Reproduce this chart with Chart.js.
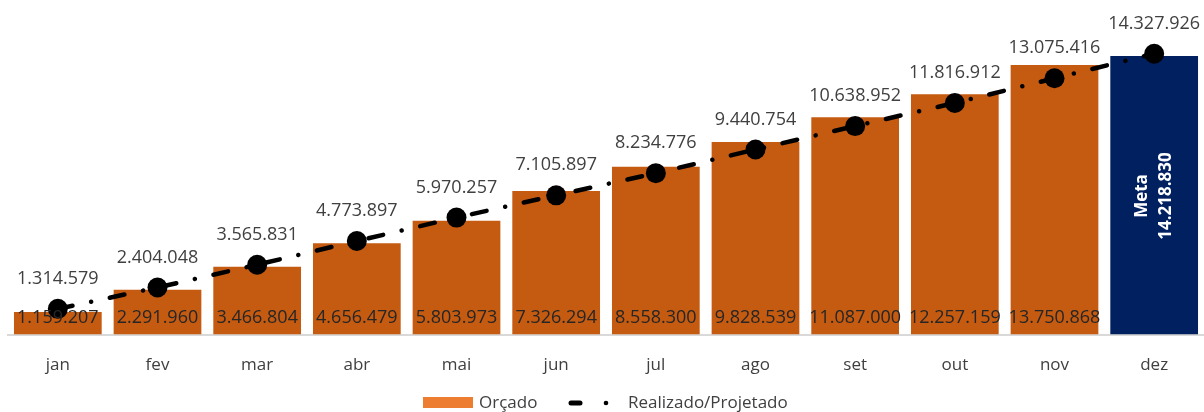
<!DOCTYPE html>
<html><head><meta charset="utf-8">
<script src="https://cdn.jsdelivr.net/npm/chart.js@4/dist/chart.umd.min.js"></script>
<style>html,body{margin:0;padding:0;background:#fff}#wrap{width:1204px;height:412px;position:relative}</style>
</head><body><div id="wrap"><canvas id="c" width="1204" height="412"></canvas></div>
<script>
const categories = ['jan','fev','mar','abr','mai','jun','jul','ago','set','out','nov','dez'];
const orcado = [1159207, 2291960, 3466804, 4656479, 5803973, 7326294, 8558300, 9828539, 11087000, 12257159, 13750868, 14218830];
const realizado = [1314579, 2404048, 3565831, 4773897, 5970257, 7105897, 8234776, 9440754, 10638952, 11816912, 13075416, 14327926];
const metaLabel = 'Meta';
const seriesNames = ['Orçado', 'Realizado/Projetado'];

const FONT = '"Open Sans", "DejaVu Sans", sans-serif';
const fmt = v => Math.round(v).toString().replace(/\B(?=(\d{3})+(?!\d))/g, '.');
const barColors = categories.map((c, i) => i === categories.length - 1 ? '#002060' : '#C55A11');

const labelsPlugin = {
  id: 'labelsPlugin',
  afterDatasetsDraw(chart) {
    const ctx = chart.ctx;
    const barMeta = chart.getDatasetMeta(1);
    const lineMeta = chart.getDatasetMeta(0);
    ctx.save();
    ctx.font = '18px ' + FONT;
    ctx.textAlign = 'center';
    ctx.textBaseline = 'middle';
    barMeta.data.forEach((el, i) => {
      if (i === categories.length - 1) return;
      ctx.fillStyle = '#262626';
      ctx.fillText(fmt(orcado[i]), el.x, el.base - 17);
    });
    lineMeta.data.forEach((el, i) => {
      ctx.fillStyle = '#404040';
      ctx.fillText(fmt(realizado[i]), el.x, el.y - 30);
    });
    const last = barMeta.data[categories.length - 1];
    ctx.save();
    ctx.translate(last.x, 196);
    ctx.rotate(-Math.PI / 2);
    ctx.fillStyle = '#ffffff';
    ctx.font = 'bold 17px ' + FONT;
    ctx.fillText(metaLabel, 0, -12);
    ctx.fillText(fmt(orcado[categories.length - 1]), 0, 12);
    ctx.restore();
    const ly = 403;
    ctx.fillStyle = '#ED7D31';
    ctx.fillRect(423, 397, 50, 11);
    ctx.fillStyle = '#404040';
    ctx.font = '17px ' + FONT;
    ctx.textAlign = 'left';
    ctx.fillText(seriesNames[0], 479, ly);
    ctx.strokeStyle = '#000';
    ctx.lineWidth = 5;
    ctx.lineCap = 'round';
    ctx.beginPath(); ctx.moveTo(571, ly); ctx.lineTo(580, ly); ctx.stroke();
    ctx.beginPath(); ctx.arc(606, ly, 2.3, 0, Math.PI * 2); ctx.fillStyle = '#000'; ctx.fill();
    ctx.fillStyle = '#404040';
    ctx.fillText(seriesNames[1], 628, ly);
    ctx.restore();
  }
};

new Chart(document.getElementById('c'), {
  data: {
    labels: categories,
    datasets: [
      {
        type: 'line', label: seriesNames[1], data: realizado,
        borderColor: '#000', backgroundColor: '#000', borderWidth: 4.5,
        borderDash: [15, 19, 0.1, 19], borderCapStyle: 'round',
        pointRadius: 10, pointHoverRadius: 10, pointBackgroundColor: '#000', pointBorderWidth: 0,
        tension: 0, order: 0, clip: false
      },
      {
        type: 'bar', label: seriesNames[0], data: orcado,
        backgroundColor: barColors, barPercentage: 0.88, categoryPercentage: 1.0, order: 1
      }
    ]
  },
  options: {
    responsive: false, animation: false, devicePixelRatio: 1,
    layout: { autoPadding: false, padding: { left: 8, right: 0, top: 0, bottom: 17 } },
    plugins: { legend: { display: false }, tooltip: { enabled: false } },
    scales: {
      x: {
        offset: true,
        grid: { display: false, drawTicks: false },
        border: { display: true, color: '#d9d9d9', width: 2 },
        ticks: { color: '#404040', font: { size: 17, family: FONT }, padding: 20 }
      },
      y: { display: false, min: 0, max: 17070000 }
    }
  },
  plugins: [labelsPlugin]
});
</script>
</body></html>
